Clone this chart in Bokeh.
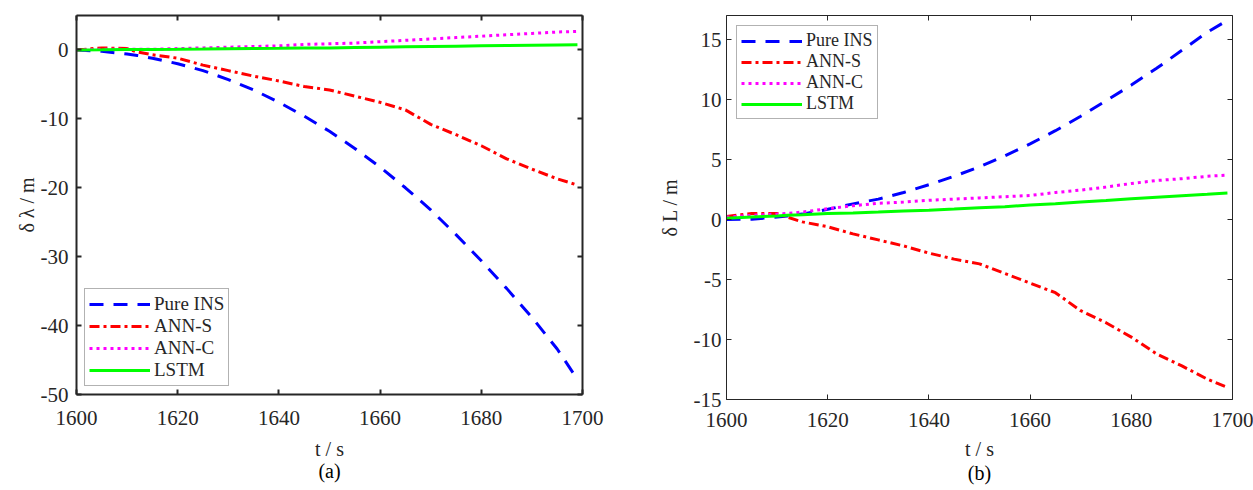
from bokeh.plotting import figure
from bokeh.models import Range1d, LinearAxis, FixedTicker, Legend, LegendItem, Title
from bokeh.layouts import row, column
from bokeh.embed import file_html
from bokeh.resources import INLINE

# ---------------- data ----------------
t = [1600, 1605, 1610, 1612, 1615, 1620, 1625, 1630, 1635, 1640, 1645,
     1650, 1655, 1660, 1665, 1670, 1675, 1680, 1685, 1690, 1695, 1699]

series_names = ["Pure INS", "ANN-S", "ANN-C", "LSTM"]

# panel (a): delta lambda / m
a_pure_ins = [0, -0.2, -0.6, -0.8, -1.2, -2.0, -3.0, -4.3, -5.8, -7.6, -9.6,
              -11.8, -14.3, -17.0, -20.0, -23.2, -26.8, -30.6, -34.6, -38.8, -43.4, -47.8]
a_ann_s = [0, 0.3, 0.2, -0.3, -0.7, -1.2, -2.2, -3.0, -3.8, -4.5, -5.3,
           -5.8, -6.7, -7.6, -8.7, -10.8, -12.3, -13.9, -15.8, -17.3, -18.7, -19.6]
a_ann_c = [0, 0.1, 0.1, 0.1, 0.1, 0.2, 0.3, 0.4, 0.5, 0.6, 0.8,
           0.9, 1.0, 1.2, 1.4, 1.6, 1.8, 2.0, 2.2, 2.4, 2.6, 2.7]
a_lstm = [0, 0.02, 0.05, 0.06, 0.08, 0.1, 0.13, 0.17, 0.2, 0.23, 0.27,
          0.3, 0.35, 0.4, 0.45, 0.5, 0.55, 0.6, 0.64, 0.68, 0.72, 0.75]

# panel (b): delta L / m
b_pure_ins = [0, 0.03, 0.2, 0.3, 0.45, 0.85, 1.3, 1.7, 2.25, 2.9, 3.6,
              4.4, 5.3, 6.3, 7.4, 8.6, 9.9, 11.2, 12.6, 14.1, 15.6, 16.6]
b_ann_s = [0.25, 0.5, 0.5, 0.2, -0.2, -0.6, -1.2, -1.7, -2.2, -2.8, -3.3,
           -3.7, -4.5, -5.3, -6.1, -7.6, -8.6, -9.8, -11.2, -12.2, -13.3, -14.0]
b_ann_c = [0.2, 0.35, 0.45, 0.5, 0.62, 0.9, 1.15, 1.35, 1.45, 1.6, 1.7,
           1.8, 1.9, 2.0, 2.25, 2.45, 2.7, 3.0, 3.25, 3.4, 3.6, 3.7]
b_lstm = [0.1, 0.2, 0.3, 0.35, 0.4, 0.5, 0.55, 0.62, 0.7, 0.78, 0.87,
          0.97, 1.07, 1.2, 1.32, 1.45, 1.58, 1.72, 1.85, 1.98, 2.1, 2.2]

x_ticks = [1600, 1620, 1640, 1660, 1680, 1700]
a_y_ticks = [-50, -40, -30, -20, -10, 0]
b_y_ticks = [-15, -10, -5, 0, 5, 10, 15]

# ---------------- styles ----------------
FONT = "Liberation Serif"
AX_COL = "#262626"
styles = [
    dict(line_color="#0000ff", line_dash="14 10"),
    dict(line_color="#ff0000", line_dash="10 4 3 4"),
    dict(line_color="#ff00ff", line_dash="3 4"),
    dict(line_color="#00ff00", line_dash="solid"),
]


def make_panel(width, mb_left, mb_right, mb_bottom, yr, yticks, series,
               axis_lw, ylab_std, xlab_std, legend_loc, legend_font, label_h,
               xlab_standoff, cap, cap_off, cap_standoff, ylab, ylab_off, ylab_standoff):
    p = figure(width=width, height=490, x_range=Range1d(1600, 1700),
               y_range=Range1d(*yr), output_backend="svg", toolbar_location=None,
               min_border_left=mb_left, min_border_right=mb_right,
               min_border_top=15, min_border_bottom=mb_bottom)
    p.grid.visible = False
    p.outline_line_color = None
    p.background_fill_color = "white"
    p.border_fill_color = "white"

    p.add_layout(LinearAxis(), "above")
    p.add_layout(LinearAxis(), "right")
    xa = p.below[0]
    ya = p.left[0]
    xt = p.above[0]
    yr_ax = p.right[0]
    for ax in (xa, xt):
        ax.ticker = FixedTicker(ticks=x_ticks)
    for ax in (ya, yr_ax):
        ax.ticker = FixedTicker(ticks=yticks)
        ax.major_label_overrides = {v: str(v) for v in yticks}
    for ax in (xa, xt, ya, yr_ax):
        ax.axis_line_color = AX_COL
        ax.axis_line_width = axis_lw
        ax.major_tick_line_color = AX_COL
        ax.major_tick_line_width = axis_lw
        ax.major_tick_in = 5
        ax.major_tick_out = 0
        ax.minor_tick_line_color = None
        ax.major_label_text_font = FONT
        ax.major_label_text_font_size = "21px"
        ax.major_label_text_color = AX_COL
    xa.major_label_standoff = xlab_std
    xa.axis_label = "t / s"
    xa.axis_label_standoff = xlab_standoff
    xa.axis_label_text_font = FONT
    xa.axis_label_text_font_size = "20px"
    xa.axis_label_text_font_style = "normal"
    xa.axis_label_text_color = AX_COL
    ya.major_label_standoff = ylab_std
    for ax in (xt, yr_ax):
        ax.major_label_text_font_size = "0px"
        ax.major_label_standoff = 0

    renderers = []
    for ys, st in zip(series, styles):
        r = p.line(t, ys, line_width=3, line_cap="butt", **st)
        renderers.append(r)

    legend = Legend(items=[LegendItem(label=n, renderers=[r]) for n, r in zip(series_names, renderers)],
                    location=legend_loc, margin=8 if legend_loc == "bottom_left" else 10,
                    padding=4, spacing=0, glyph_width=61, glyph_height=label_h,
                    label_height=label_h, label_standoff=4,
                    label_text_font=FONT, label_text_font_size=legend_font,
                    label_text_color=AX_COL,
                    border_line_color="#666666", border_line_width=1,
                    background_fill_color="white", background_fill_alpha=1)
    p.add_layout(legend)

    p.add_layout(Title(text=cap, align="center", offset=cap_off, standoff=cap_standoff,
                       text_font=FONT, text_font_size="20px", text_font_style="normal",
                       text_color="black"), "below")
    p.add_layout(Title(text=ylab, align="center", offset=ylab_off, standoff=ylab_standoff,
                       text_font=FONT, text_font_size="20px", text_font_style="normal",
                       text_color=AX_COL), "left")
    return p


pa = make_panel(628, 76, 46, 96, (-50, 5), a_y_ticks,
                [a_pure_ins, a_ann_s, a_ann_c, a_lstm], 2, 8, 16, "bottom_left", "19px", 22,
                10, "(a)", -2, -10, "\u03b4 \u03bb / m", 12, 0)
pb = make_panel(625, 98, 21, 91, (-15, 17), b_y_ticks,
                [b_pure_ins, b_ann_s, b_ann_c, b_lstm], 1, 5, 13, "top_left", "18px", 20,
                8, "(b)", -15, -6, "\u03b4 L / m", 0, 20)

layout = row(column(pa), column(pb))
open("out.html", "w").write(file_html(layout, INLINE))
